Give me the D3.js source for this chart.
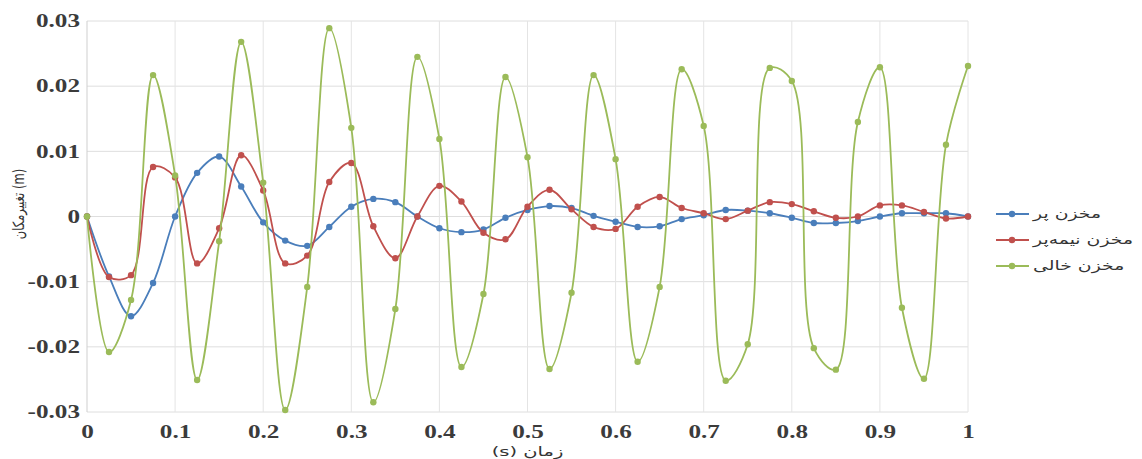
<!DOCTYPE html>
<html>
<head>
<meta charset="utf-8">
<title>تغییرمکان مخزن</title>
<script src="https://d3js.org/d3.v7.min.js"></script>
<style>
  body { margin: 0; background: #fff; }
  svg { display: block; }
</style>
</head>
<body>
<div id="chart"></div>
<script>
// time steps (s)
var times = [0, 0.025, 0.05, 0.075, 0.1, 0.125, 0.15, 0.175, 0.2, 0.225,
  0.25, 0.275, 0.3, 0.325, 0.35, 0.375, 0.4, 0.425, 0.45, 0.475,
  0.5, 0.525, 0.55, 0.575, 0.6, 0.625, 0.65, 0.675, 0.7, 0.725,
  0.75, 0.775, 0.8, 0.825, 0.85, 0.875, 0.9, 0.925, 0.95, 0.975, 1];

// displacement (m) for each tank state
var fullTank = [0, -0.0092, -0.0153, -0.0102, 0, 0.0067, 0.0092, 0.0046, -0.0009, -0.0037,
  -0.0045, -0.0016, 0.0015, 0.0027, 0.0022, 0, -0.0018, -0.0024, -0.002, -0.0002,
  0.001, 0.0016, 0.0013, 0.0001, -0.0008, -0.0016, -0.0015, -0.0004, 0.0002, 0.001,
  0.0009, 0.0005, -0.0002, -0.001, -0.001, -0.0007, 0, 0.0005, 0.0005, 0.0005, 0];

var halfTank = [0, -0.0093, -0.009, 0.0076, 0.006, -0.0072, -0.0018, 0.0094, 0.004, -0.0072,
  -0.006, 0.0053, 0.0082, -0.0015, -0.0064, 0, 0.0047, 0.0023, -0.0025, -0.0035,
  0.0015, 0.0041, 0.0011, -0.0016, -0.0019, 0.0015, 0.003, 0.0013, 0.0005, -0.0004,
  0.0009, 0.0022, 0.0019, 0.0008, -0.0002, 0, 0.0017, 0.0017, 0.0007, -0.0003, 0];

var emptyTank = [0, -0.0208, -0.0128, 0.0217, 0.0063, -0.0251, -0.0038, 0.0268, 0.0052, -0.0297,
  -0.0108, 0.0289, 0.0136, -0.0285, -0.0142, 0.0245, 0.0119, -0.0231, -0.0119, 0.0214,
  0.0091, -0.0234, -0.0117, 0.0217, 0.0088, -0.0223, -0.0108, 0.0226, 0.0139, -0.0252,
  -0.0196, 0.0228, 0.0208, -0.0202, -0.0235, 0.0145, 0.0229, -0.014, -0.0249, 0.011, 0.0231];

var seriesNames = ["مخزن پر", "مخزن نیمه‌پر", "مخزن خالی"];
var xTicks = [0, 0.1, 0.2, 0.3, 0.4, 0.5, 0.6, 0.7, 0.8, 0.9, 1];
var yTicks = [-0.03, -0.02, -0.01, 0, 0.01, 0.02, 0.03];

var colors = ["#4a7ebb", "#c0504d", "#9bbb59"];
var allSeries = [fullTank, halfTank, emptyTank];

var W = 1142, H = 459;
var margin = {top: 21, right: 174, bottom: 47, left: 87};

var svg = d3.select("#chart").append("svg")
  .attr("width", W)
  .attr("height", H);

var x = d3.scaleLinear().domain([0, 1]).range([margin.left, W - margin.right]);
var y = d3.scaleLinear().domain([-0.03, 0.03]).range([H - margin.bottom, margin.top]);

// grid
svg.append("g")
  .selectAll("line")
  .data(yTicks)
  .enter().append("line")
    .attr("x1", x(0)).attr("x2", x(1))
    .attr("y1", function(d) { return y(d); })
    .attr("y2", function(d) { return y(d); })
    .style("stroke", "#dedede")
    .style("stroke-width", 1);

svg.append("g")
  .selectAll("line")
  .data(xTicks)
  .enter().append("line")
    .attr("x1", function(d) { return x(d); })
    .attr("x2", function(d) { return x(d); })
    .attr("y1", y(0.03)).attr("y2", y(-0.03))
    .style("stroke", function(d) { return d === 0 ? "#cfcfcf" : "#e4e4e4"; })
    .style("stroke-width", 1);

// axes (labels only, Excel style); the source image is stretched sideways,
// so text gets a horizontal scale
var yAxis = d3.axisLeft(y)
  .tickValues(yTicks)
  .tickSize(0)
  .tickPadding(5)
  .tickFormat(function(d) { return d === 0 ? "0" : d.toFixed(2); });

var xAxis = d3.axisBottom(x)
  .tickValues(xTicks)
  .tickSize(0)
  .tickPadding(13)
  .tickFormat(function(d) { return d3.format("")(d); });

var gy = svg.append("g")
  .attr("transform", "translate(" + margin.left + ",0)")
  .call(yAxis);
var gx = svg.append("g")
  .attr("transform", "translate(0," + (H - margin.bottom) + ")")
  .call(xAxis);

[gx, gy].forEach(function(g) {
  g.select(".domain").remove();
  g.selectAll("text")
    .attr("transform", "scale(1.4,1)")
    .style("font-family", "'Liberation Serif', serif")
    .style("font-size", "18px")
    .style("font-weight", "bold")
    .style("fill", "#3b3b3b");
});

// axis titles
svg.append("text")
  .attr("transform", "translate(" + x(0.5) + ",456) scale(1.5,1)")
  .attr("text-anchor", "middle")
  .style("font-family", "'DejaVu Sans', sans-serif")
  .style("font-size", "13px")
  .style("fill", "#333")
  .text("(s) زمان");

svg.append("text")
  .attr("transform", "translate(24,204) scale(1.35,1) rotate(-90)")
  .attr("text-anchor", "middle")
  .style("font-family", "'DejaVu Sans', sans-serif")
  .style("font-size", "11.5px")
  .style("fill", "#333")
  .text("تغییرمکان (m)");

// lines + markers
var line = d3.line()
  .x(function(d, i) { return x(times[i]); })
  .y(function(d) { return y(d); })
  .curve(d3.curveCatmullRom.alpha(0.5));

allSeries.forEach(function(vals, k) {
  var g = svg.append("g");
  g.append("path")
    .datum(vals)
    .attr("d", line)
    .style("fill", "none")
    .style("stroke", colors[k])
    .style("stroke-width", 1.8);
  g.selectAll("circle")
    .data(vals)
    .enter().append("circle")
      .attr("cx", function(d, i) { return x(times[i]); })
      .attr("cy", function(d) { return y(d); })
      .attr("r", 3.2)
      .style("fill", colors[k])
      .style("stroke", "none");
});

// legend
var legend = svg.append("g");
var rowY = [214, 240, 266];
seriesNames.forEach(function(name, k) {
  var row = legend.append("g").attr("transform", "translate(0," + rowY[k] + ")");
  row.append("line")
    .attr("x1", 996).attr("x2", 1029)
    .attr("y1", 0).attr("y2", 0)
    .style("stroke", colors[k])
    .style("stroke-width", 1.8);
  row.append("circle")
    .attr("cx", 1012).attr("cy", 0).attr("r", 3.2)
    .style("fill", colors[k]);
  row.append("text")
    .attr("transform", "translate(1033,4) scale(1.45,1)")
    .style("font-family", "'DejaVu Sans', sans-serif")
    .style("font-size", "13px")
    .style("fill", "#333")
    .text(name);
});
</script>
</body>
</html>
